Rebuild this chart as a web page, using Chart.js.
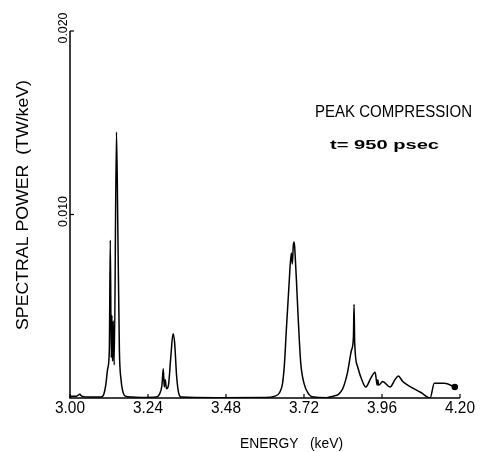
<!DOCTYPE html>
<html>
<head>
<meta charset="utf-8">
<script src="https://cdn.jsdelivr.net/npm/chart.js@4/dist/chart.umd.min.js"></script>
<style>
  html, body { margin: 0; padding: 0; background: #fff; }
  #wrap { width: 480px; height: 452px; }
</style>
</head>
<body>
<div id="wrap"><canvas id="spectrum" width="480" height="452"></canvas></div>
<script>
// spectrum (keV, TW/keV)
const energy = [
  3.000, 3.020, 3.030, 3.036, 3.060, 3.095, 3.104, 3.110, 3.116, 3.121,
  3.124, 3.127, 3.129, 3.131, 3.133, 3.136, 3.143, 3.147, 3.152, 3.157,
  3.162, 3.170, 3.190, 3.230, 3.265, 3.275, 3.283, 3.287, 3.290, 3.293,
  3.297, 3.303, 3.310, 3.317, 3.322, 3.328, 3.334, 3.342, 3.450, 3.600,
  3.630, 3.645, 3.654, 3.660, 3.665, 3.674, 3.681, 3.684, 3.687, 3.690,
  3.693, 3.697, 3.702, 3.710, 3.720, 3.735, 3.750, 3.790, 3.810, 3.826,
  3.839, 3.854, 3.866, 3.872, 3.874, 3.876, 3.885, 3.900, 3.910, 3.926,
  3.939, 3.945, 3.947, 3.950, 3.962, 3.985, 4.000, 4.010, 4.024, 4.039,
  4.080, 4.108, 4.121, 4.126, 4.152, 4.184
];
const power = [
  0.0001, 0.0001, 0.0002, 0.0001, 0.00005, 0.00005, 0.0002, 0.0007, 0.0016, 0.0026,
  0.0086, 0.0022, 0.0045, 0.0020, 0.0042, 0.0018, 0.0145, 0.0095, 0.0026, 0.0010,
  0.0004, 0.0001, 0.00005, 0.00003, 0.00005, 0.0002, 0.0007, 0.0016, 0.0006, 0.0010,
  0.0005, 0.0007, 0.0022, 0.0035, 0.0030, 0.0012, 0.0003, 0.00005, 0.00002, 0.00003,
  0.0001, 0.0003, 0.0008, 0.0019, 0.0035, 0.0062, 0.0079, 0.0073, 0.0083, 0.0085,
  0.0077, 0.0063, 0.0044, 0.0019, 0.0008, 0.0002, 0.00005, 0.00002, 0.0001, 0.0002,
  0.0005, 0.0014, 0.0026, 0.0033, 0.0051, 0.0030, 0.0017, 0.0009, 0.0006, 0.0011,
  0.0014, 0.0007, 0.0010, 0.0007, 0.0009, 0.0006, 0.0010, 0.0012, 0.0009, 0.0007,
  0.0003, 0.0000, 0.0008, 0.0008, 0.0008, 0.0006
];

const xTicks = [3.00, 3.24, 3.48, 3.72, 3.96, 4.20];
const xTickLabels = ["3.00", "3.24", "3.48", "3.72", "3.96", "4.20"];
const yTicks = [0.010, 0.020];
const yTickLabels = ["0.010", "0.020"];

const FONT = "'Liberation Sans', Arial, sans-serif";

// draw text squeezed to a given width, centred on (x, y) at cap middle
function plotText(ctx, text, x, y, size, width, angle, weight) {
  ctx.save();
  ctx.translate(x, y);
  if (angle) ctx.rotate(angle);
  ctx.font = (weight || "normal") + " " + size + "px " + FONT;
  const w = ctx.measureText(text).width;
  ctx.scale(width / w, 1);
  ctx.textAlign = "center";
  ctx.textBaseline = "alphabetic";
  ctx.fillText(text, 0, size * 0.36);
  ctx.restore();
}

const plotAxes = {
  id: "plotAxes",
  afterDraw(chart) {
    const ctx = chart.ctx;
    const xs = chart.scales.x, ys = chart.scales.y;
    const x0 = xs.getPixelForValue(3.0), x1 = xs.getPixelForValue(4.2);
    const y0 = ys.getPixelForValue(0), y1 = ys.getPixelForValue(0.02);
    ctx.save();
    ctx.strokeStyle = "#000";
    ctx.fillStyle = "#000";
    ctx.lineWidth = 1.5;
    ctx.beginPath();
    ctx.moveTo(x0, y1);
    ctx.lineTo(x0, y0);
    ctx.lineTo(x1, y0);
    ctx.stroke();

    ctx.lineWidth = 1.2;
    xTicks.forEach((v, i) => {
      const px = xs.getPixelForValue(v);
      ctx.beginPath();
      ctx.moveTo(px, y0);
      ctx.lineTo(px, y0 - 4);
      ctx.stroke();
      plotText(ctx, xTickLabels[i], px, 407.5, 16, 30);
    });
    yTicks.forEach((v, i) => {
      const py = ys.getPixelForValue(v);
      ctx.beginPath();
      ctx.moveTo(x0, py);
      ctx.lineTo(x0 + 4, py);
      ctx.stroke();
      plotText(ctx, yTickLabels[i], 62, py - 3, 13, 31, -Math.PI / 2);
    });

    plotText(ctx, "ENERGY   (keV)", 291.5, 443, 14, 103);
    plotText(ctx, "SPECTRAL POWER  (TW/keV)", 21.5, 205, 17, 250, -Math.PI / 2);
    plotText(ctx, "PEAK COMPRESSION", 393.5, 111, 16, 157);
    plotText(ctx, "t= 950 psec", 384.5, 144.5, 13, 109, 0, "bold");
    ctx.restore();
  }
};

const last = energy.length - 1;

new Chart(document.getElementById("spectrum"), {
  type: "line",
  data: {
    datasets: [{
      data: energy.map((e, i) => ({ x: e, y: power[i] })),
      borderColor: "#000",
      backgroundColor: "#000",
      borderWidth: 1.5,
      fill: false,
      cubicInterpolationMode: "monotone",
      pointRadius: (c) => (c.dataIndex === last ? 2.5 : 0),
      pointHoverRadius: 0
    }]
  },
  options: {
    responsive: false,
    animation: false,
    layout: { padding: { left: 70, right: 20, top: 31, bottom: 54 } },
    plugins: { legend: { display: false }, tooltip: { enabled: false } },
    scales: {
      x: { type: "linear", min: 3.0, max: 4.2, display: false },
      y: { type: "linear", min: 0, max: 0.02, display: false }
    }
  },
  plugins: [plotAxes]
});
</script>
</body>
</html>
